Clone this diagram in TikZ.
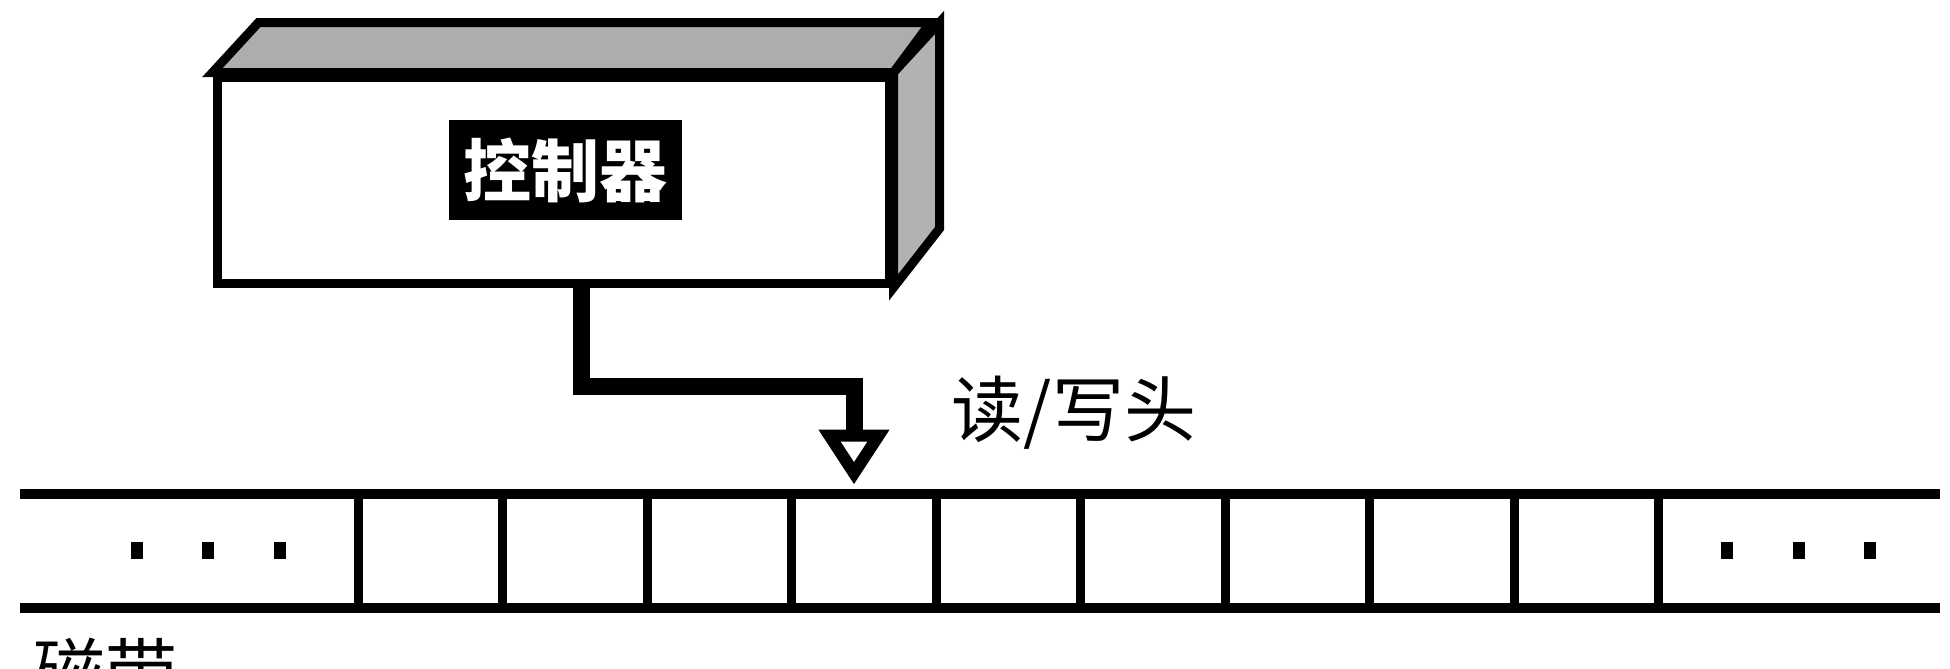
\documentclass[tikz,border=0pt]{standalone}
\usepackage{fontspec}
\newfontfamily\cjk{Noto Sans CJK SC}
\usetikzlibrary{arrows.meta}
\begin{document}
\begin{tikzpicture}[x=0.5pt,y=-0.5pt,
  face/.style={draw=black,line width=4.5pt,line join=miter},
  front/.style={face,fill=white,minimum width=336pt,minimum height=103pt,inner sep=0pt},
  lbl/.style={fill=black,text=white,minimum width=116.5pt,minimum height=50pt,inner sep=0pt,font=\cjk\bfseries\fontsize{34}{36}\selectfont},
  txt/.style={inner sep=0pt,font=\cjk\fontsize{36}{40}\selectfont},
  cell/.style={draw=black,line width=4.5pt,minimum width=72.25pt,minimum height=57pt,inner sep=0pt},
  tapeline/.style={line width=5pt},
  pipe/.style={line width=8.5pt,line join=miter,
    -{Triangle[fill=white,length=27.5pt 0,width=34pt 0,line width'=6pt]}},
  dot/.style={fill=black}
]
\path[use as bounding box,clip] (0,0) rectangle (1950,669);
\fill[white] (0,0) rectangle (1950,669);

% controller box
\node[front] (ctrl) at (553,180) {};
\filldraw[face,fill=black!32] (ctrl.north west) -- ++(46,-50) -- ++(672,0) -- (ctrl.north east) -- cycle;
\filldraw[face,fill=black!30] (ctrl.north east) -- ++(46,-50) -- ++(0,206) -- (ctrl.south east) -- cycle;
\node[lbl] (ctrllbl) at (565,170) {控制器};

% tape
\draw[tapeline] (20,494) -- (1940,494);
\draw[tapeline] (20,608) -- (1940,608);
\foreach \k in {1,...,9}{
  \node[cell] (c\k) at ({358+144.5*(\k-0.5)},551) {};
}
\foreach \x in {137,208,280,1727,1799,1870}{
  \fill[dot] (\x-6,542) rectangle (\x+6,559);
}

% labels
\node[txt] (head) at (1074,413) {读/写头};
\node[txt,anchor=north] (tape) at (105,638) {磁带};

% connector
\coordinate (bend) at (854,386);
\draw[pipe] ([xshift=14pt]ctrl.south) |- (bend) -- ([yshift=2.5pt]bend |- c4.north);
\end{tikzpicture}
\end{document}
